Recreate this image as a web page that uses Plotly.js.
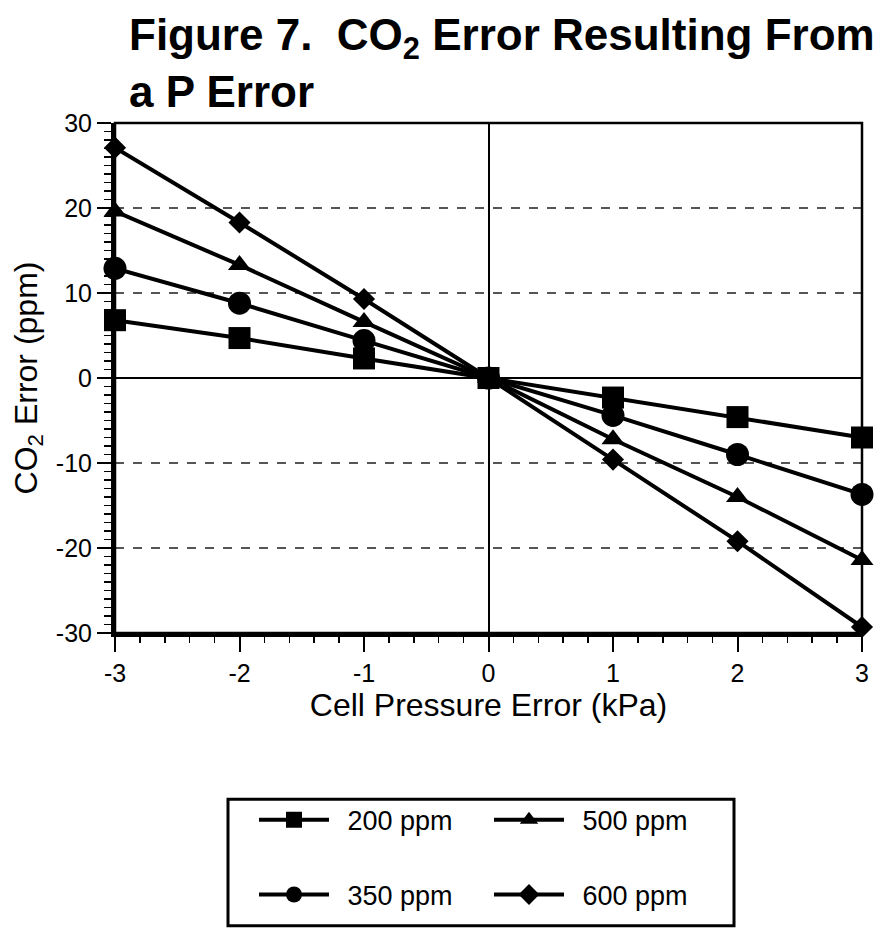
<!DOCTYPE html>
<html>
<head>
<meta charset="utf-8">
<script src="https://cdn.plot.ly/plotly-3.0.1.min.js"></script>
<style>html,body{margin:0;padding:0;background:#fff;}#chart{width:877px;height:931px;}</style>
</head>
<body>
<div id="chart"></div>
<script>
// Data
var pressureError = [-3, -2, -1, 0, 1, 2, 3];
var co2_200 = [6.8, 4.7, 2.3, 0, -2.3, -4.6, -7.0];
var co2_350 = [12.9, 8.8, 4.4, 0, -4.4, -9.0, -13.7];
var co2_500 = [19.6, 13.3, 6.6, 0, -7.2, -14.0, -21.4];
var co2_600 = [27.1, 18.3, 9.3, 0, -9.6, -19.2, -29.3];
var seriesNames = ['200 ppm', '350 ppm', '500 ppm', '600 ppm'];
var xTickVals = [-3, -2, -1, 0, 1, 2, 3];
var xTickText = ['-3', '-2', '-1', '0', '1', '2', '3'];
var yTickVals = [-30, -20, -10, 0, 10, 20, 30];
var yTickText = ['-30', '-20', '-10', '0', '10', '20', '30'];

var FONT = 'Liberation Sans, Arial, Helvetica, sans-serif';

function series(y, name, symbol, size, legendId) {
  return {
    x: pressureError, y: y, name: '\u2002' + name, type: 'scatter', mode: 'lines+markers',
    line: {color: '#000', width: 4},
    marker: {symbol: symbol, size: size, color: '#000'},
    cliponaxis: false,
    legend: legendId
  };
}

var data = [
  series(co2_200, seriesNames[0], 'square', 22, 'legend'),
  series(co2_500, seriesNames[2], 'triangle-up', 20, 'legend'),
  series(co2_350, seriesNames[1], 'circle', 23, 'legend2'),
  series(co2_600, seriesNames[3], 'diamond', 17, 'legend2')
];

var pw = 877 - 115 - 15, ph = 931 - 123 - 296;
function px2x(p) { return (p - 115) / pw; }
function py2y(p) { return (635 - p) / ph; }

var legendCommon = {
  orientation: 'h', xanchor: 'left', yanchor: 'middle',
  x: px2x(254), bgcolor: 'rgba(0,0,0,0)', borderwidth: 0,
  font: {family: FONT, size: 27, color: '#000'},
  entrywidth: 150, entrywidthmode: 'pixels', itemwidth: 70
};

var layout = {
  width: 877, height: 931,
  margin: {l: 115, r: 15, t: 123, b: 296},
  paper_bgcolor: '#fff', plot_bgcolor: '#fff',
  title: {
    text: '<b>Figure 7.\u00a0 CO<sub>2</sub> Error Resulting From<br>a P Error</b>',
    font: {family: FONT, size: 44, color: '#000'},
    xref: 'container', x: 129 / 877, xanchor: 'left',
    yref: 'container', y: 1 - 50 / 931, yanchor: 'top'
  },
  xaxis: {
    range: [-3, 3], tickvals: xTickVals, ticktext: xTickText,
    ticks: 'outside', ticklen: 15, tickwidth: 2, tickcolor: '#000',
    minor: {dtick: 0.2, tick0: -3, ticks: 'outside', ticklen: 6, tickwidth: 1.5, tickcolor: '#000', showgrid: false},
    showline: true, linewidth: 4, linecolor: '#000',
    showgrid: false, zeroline: true, zerolinecolor: '#000', zerolinewidth: 2,
    tickfont: {family: FONT, size: 25, color: '#000'},
    title: {text: 'Cell Pressure Error (kPa)', font: {family: FONT, size: 32, color: '#000'}, standoff: 6},
    fixedrange: true
  },
  xaxis2: {
    overlaying: 'x', anchor: 'y', side: 'bottom',
    range: [-3, 3], tickvals: xTickVals, ticktext: xTickText, showticklabels: false,
    ticks: 'inside', ticklen: 15, tickwidth: 2, tickcolor: '#000',
    minor: {dtick: 0.2, tick0: -3, ticks: 'inside', ticklen: 6, tickwidth: 1.5, tickcolor: '#000', showgrid: false},
    showline: false, showgrid: false, zeroline: false, fixedrange: true
  },
  yaxis: {
    range: [-30, 30], tickvals: yTickVals, ticktext: yTickText,
    ticks: 'outside', ticklen: 14, tickwidth: 2, tickcolor: '#000',
    minor: {dtick: 1, tick0: -30, ticks: 'outside', ticklen: 7, tickwidth: 1.5, tickcolor: '#000', showgrid: false},
    showline: true, linewidth: 4, linecolor: '#000',
    showgrid: true, gridcolor: '#555', gridwidth: 1.5, griddash: 'dash',
    zeroline: true, zerolinecolor: '#000', zerolinewidth: 2,
    tickfont: {family: FONT, size: 25, color: '#000'},
    title: {text: 'CO<sub>2</sub> Error (ppm)', font: {family: FONT, size: 32, color: '#000'}, standoff: 10},
    fixedrange: true
  },
  yaxis2: {
    overlaying: 'y', anchor: 'x', side: 'left',
    range: [-30, 30], tickvals: yTickVals, ticktext: yTickText, showticklabels: false,
    ticks: 'inside', ticklen: 7, tickwidth: 2, tickcolor: '#000',
    minor: {dtick: 1, tick0: -30, ticks: 'inside', ticklen: 7, tickwidth: 1.5, tickcolor: '#000', showgrid: false},
    showline: false, showgrid: false, zeroline: false, fixedrange: true
  },
  legend: Object.assign({}, legendCommon, {y: py2y(823)}),
  legend2: Object.assign({}, legendCommon, {y: py2y(898)}),
  shapes: [
    {type: 'rect', xref: 'paper', yref: 'paper', x0: 0, x1: 1, y0: 0, y1: 1,
     line: {color: '#000', width: 2.5}, layer: 'above'},
    {type: 'rect', xref: 'paper', yref: 'paper', x0: px2x(228), x1: px2x(734), y0: py2y(929), y1: py2y(802),
     line: {color: '#000', width: 3}, fillcolor: 'rgba(0,0,0,0)', layer: 'above'}
  ],
  showlegend: true
};

Plotly.newPlot('chart', data, layout, {displayModeBar: false, staticPlot: true});
</script>
</body>
</html>
